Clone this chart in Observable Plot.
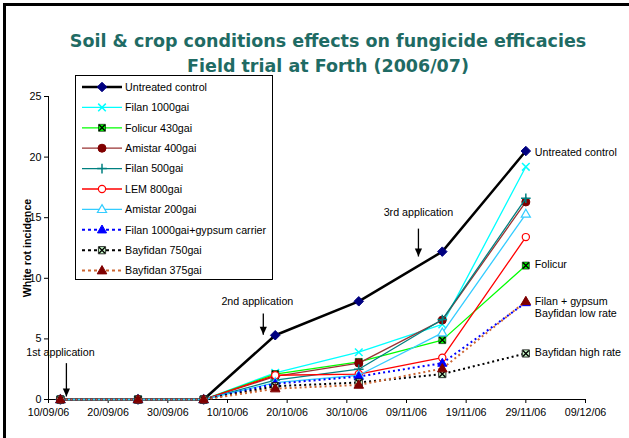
<!DOCTYPE html>
<html><head><meta charset="utf-8">
<script src="https://cdn.jsdelivr.net/npm/d3@7"></script>
<script src="https://cdn.jsdelivr.net/npm/@observablehq/plot@0.6"></script>
<style>body{margin:0;background:#fff}</style>
</head><body><div id="chart"></div>
<script>
// ---------- data ----------
const dates = ["2006-09-12","2006-09-25","2006-10-06","2006-10-18","2006-11-01","2006-11-15","2006-11-29"];
const seriesNames = ["Untreated control","Filan 1000gai","Folicur 430gai","Amistar 400gai","Filan 500gai","LEM 800gai","Amistar 200gai","Filan 1000gai+gypsum carrier","Bayfidan 750gai","Bayfidan 375gai"];
const untreated   = [0,0,0,5.3,8.1,12.2,20.5];
const filan1000   = [0,0,0,2.2,3.9,6.2,19.2];
const folicur430  = [0,0,0,2.1,3.1,4.9,11.05];
const amistar400  = [0,0,0,1.9,3.0,6.55,16.3];
const filan500    = [0,0,0,1.6,2.5,6.6,16.6];
const lem800      = [0,0,0,2.0,2.1,3.45,13.4];
const amistar200  = [0,0,0,1.4,2.0,5.5,15.3];
const filanGypsum = [0,0,0,1.3,1.9,3.0,8.0];
const bayfidan750 = [0,0,0,1.1,1.4,2.1,3.8];
const bayfidan375 = [0,0,0,0.9,1.2,2.55,8.1];
const seriesValues = [untreated,filan1000,folicur430,amistar400,filan500,lem800,amistar200,filanGypsum,bayfidan750,bayfidan375];
const xTickLabels = ["2006-09-10","2006-09-20","2006-09-30","2006-10-10","2006-10-20","2006-10-30","2006-11-09","2006-11-19","2006-11-29","2006-12-09"];
const yTickLabels = [0,5,10,15,20,25];
const titleLines = ["Soil & crop conditions effects on fungicide efficacies","Field trial at Forth (2006/07)"];
const yLabel = "White rot incidence";
// application annotations (data units: date, value)
const appLabels = ["1st application","2nd application","3rd application"];
const appTextDates = ["2006-09-12","2006-10-15","2006-11-11"];
const appTextValues = [3.9,8.1,15.4];
const appArrowDates = ["2006-09-13","2006-10-16","2006-11-11"];
const appArrowTops = [3.0,7.1,14.1];
const appArrowTips = [0.25,5.35,11.8];
// end labels
const endLabels = ["Untreated control","Folicur","Filan + gypsum","Bayfidan low rate","Bayfidan high rate"];
const endLabelDates = ["2006-11-29","2006-11-29","2006-11-29","2006-11-29","2006-11-29"];
const endLabelValues = [20.35,11.15,8.1,7.05,3.9];

// ---------- styles ----------
const R = s => Math.sqrt(s/Math.PI);
const sym = {
  diamond:{draw(c,s){const r=R(s)*1.25;c.moveTo(0,-r);c.lineTo(r,0);c.lineTo(0,r);c.lineTo(-r,0);c.closePath();}},
  times:{draw(c,s){const r=R(s);c.moveTo(-r,-r);c.lineTo(r,r);c.moveTo(-r,r);c.lineTo(r,-r);}},
  plus:{draw(c,s){const r=R(s)*1.2;c.moveTo(-r,0);c.lineTo(r,0);c.moveTo(0,-r);c.lineTo(0,r);}},
  square:{draw(c,s){const r=R(s);c.rect(-r,-r,2*r,2*r);}},
  circle:{draw(c,s){const r=R(s);c.moveTo(r,0);c.arc(0,0,r,0,2*Math.PI);}},
  triangle:{draw(c,s){const r=R(s)*1.2;c.moveTo(0,-r);c.lineTo(r*0.95,r*0.65);c.lineTo(-r*0.95,r*0.65);c.closePath();}},
  arrowHead:{draw(c,s){const r=R(s);c.moveTo(0,0);c.lineTo(-r,-2.2*r);c.lineTo(r,-2.2*r);c.closePath();}}
};
const styles = [
  {stroke:"#000000",sw:2.5,dash:null,markers:[{symbol:sym.diamond,fill:"#000080",stroke:"#000080",sw:1,r:3.8}]},
  {stroke:"#00FFFF",sw:1.3,dash:null,markers:[{symbol:sym.times,fill:"none",stroke:"#00FFFF",sw:1.5,r:3.8}]},
  {stroke:"#00FF00",sw:1.3,dash:null,markers:[{symbol:sym.square,fill:"#00FF00",stroke:"#000",sw:0.6,r:3.5},{symbol:sym.times,fill:"none",stroke:"#000",sw:1.4,r:3}]},
  {stroke:"#993333",sw:1.3,dash:null,markers:[{symbol:sym.circle,fill:"#800000",stroke:"#800000",sw:1,r:4}]},
  {stroke:"#008080",sw:1.3,dash:null,markers:[{symbol:sym.plus,fill:"none",stroke:"#008080",sw:1.5,r:4}]},
  {stroke:"#FF0000",sw:1.3,dash:null,markers:[{symbol:sym.circle,fill:"#fff",stroke:"#FF0000",sw:1.2,r:3.6}]},
  {stroke:"#33CCFF",sw:1.3,dash:null,markers:[{symbol:sym.triangle,fill:"#fff",stroke:"#33CCFF",sw:1.2,r:4}]},
  {stroke:"#0000FF",sw:2,dash:"2,3",markers:[{symbol:sym.triangle,fill:"#0000FF",stroke:"#0000FF",sw:1,r:4}]},
  {stroke:"#000000",sw:2,dash:"2,3",markers:[{symbol:sym.square,fill:"#CCFFCC",stroke:"#000",sw:0.8,r:3.6},{symbol:sym.times,fill:"none",stroke:"#000",sw:1.4,r:3}]},
  {stroke:"#CC6633",sw:2,dash:"2,3",markers:[{symbol:sym.triangle,fill:"#800000",stroke:"#800000",sw:1,r:4.2}]}
];
const titleColor = "#1f6b64";
const font = "'Liberation Sans', Arial, sans-serif";
const titleFont = "'DejaVu Sans', Verdana, sans-serif";

// ---------- build ----------
const parse = d3.utcParse("%Y-%m-%d");
const table = seriesNames.map((name,i) => dates.map((d,j) => ({series:name, date:parse(d), value:seriesValues[i][j]})));
const apps = appLabels.map((l,i)=>({label:l, tdate:parse(appTextDates[i]), tval:appTextValues[i], adate:parse(appArrowDates[i]), top:appArrowTops[i], tip:appArrowTips[i]}));
const ends = endLabels.map((l,i)=>({label:l, date:parse(endLabelDates[i]), value:endLabelValues[i]}));
const xDomain = [parse(xTickLabels[0]), parse(xTickLabels[xTickLabels.length-1])];

const marks = [
  Plot.ruleY([0],{stroke:"#000",strokeWidth:1}),
  Plot.ruleX([xDomain[0]],{stroke:"#000",strokeWidth:1}),
  Plot.axisX({ticks:xTickLabels.map(parse), tickFormat:d3.utcFormat("%d/%m/%y"), tickSize:4, tickPadding:5, label:null, stroke:"#000", fill:"#000"}),
  Plot.axisY({ticks:yTickLabels, tickSize:4, tickPadding:3, label:null, stroke:"#000", fill:"#000"}),
  Plot.text([yLabel],{text:d=>d, frameAnchor:"left", textAnchor:"middle", dx:-21, rotate:-90, fontWeight:"bold", fill:"#000"}),
  Plot.text([titleLines[0]],{text:d=>d, frameAnchor:"top", textAnchor:"middle", dx:11, dy:-62, fontFamily:titleFont, fontWeight:"bold", fontSize:17.5, fill:titleColor}),
  Plot.text([titleLines[1]],{text:d=>d, frameAnchor:"top", textAnchor:"middle", dx:11, dy:-37, fontFamily:titleFont, fontWeight:"bold", fontSize:17.5, fill:titleColor})
];
table.forEach((rows,i) => {
  const st = styles[i];
  marks.push(Plot.line(rows,{x:"date", y:"value", stroke:st.stroke, strokeWidth:st.sw, strokeDasharray:st.dash||undefined, strokeLinecap:"butt"}));
  st.markers.forEach(m => marks.push(Plot.dot(rows,{x:"date", y:"value", symbol:m.symbol, r:m.r, fill:m.fill, stroke:m.stroke, strokeWidth:m.sw})));
});
marks.push(
  Plot.link(apps,{x1:"adate", x2:"adate", y1:"top", y2:"tip", stroke:"#000", strokeWidth:1.3}),
  Plot.dot(apps,{x:"adate", y:"tip", symbol:sym.arrowHead, r:3.6, fill:"#000", stroke:"none"}),
  Plot.text(apps,{x:"tdate", y:"tval", text:"label", fill:"#000"}),
  Plot.text(ends,{x:"date", y:"value", text:"label", textAnchor:"start", dx:9, fill:"#000"})
);

const svg = Plot.plot({
  width:629, height:438,
  marginLeft:48, marginRight:44, marginTop:96, marginBottom:39,
  style:{fontFamily:font, fontSize:"10.7px", background:"#fff", color:"#000", overflow:"visible"},
  x:{type:"utc", domain:xDomain},
  y:{domain:[0,25]},
  marks
});

// legend + outer border
const g = d3.select(svg).append("g").attr("font-family",font).attr("font-size","10.7px").attr("text-anchor","start");
g.append("rect").attr("x",75.5).attr("y",75.5).attr("width",197).attr("height",204).attr("fill","#fff").attr("stroke","#000");
seriesNames.forEach((name,i)=>{
  const st = styles[i], y = 87 + i*20.4;
  g.append("line").attr("x1",82).attr("x2",122).attr("y1",y).attr("y2",y).attr("stroke",st.stroke).attr("stroke-width",st.sw).attr("stroke-dasharray",st.dash?"3,3":null);
  st.markers.forEach(m=>{
    g.append("path").attr("transform",`translate(102,${y})`).attr("d",d3.symbol(m.symbol, Math.PI*m.r*m.r)()).attr("fill",m.fill).attr("stroke",m.stroke).attr("stroke-width",m.sw);
  });
  g.append("text").attr("x",125).attr("y",y).attr("dy","0.35em").attr("fill","#000").attr("text-anchor","start").text(name);
});
d3.select(svg).append("path").attr("d","M4.5,438V4.5H629").attr("fill","none").attr("stroke","#000").attr("stroke-width",3);
document.getElementById("chart").appendChild(svg);
</script></body></html>
